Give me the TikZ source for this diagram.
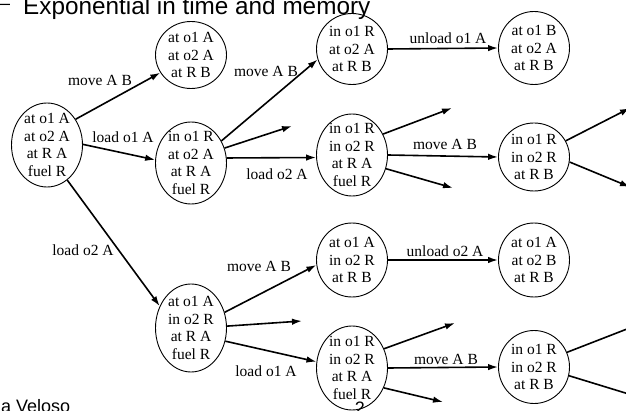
\documentclass[tikz,border=0pt]{standalone}
\usepackage{fontspec}
\setmainfont{Liberation Serif}
\newfontfamily\slidesans{Liberation Sans}
\usetikzlibrary{shapes.geometric,arrows.meta}
\begin{document}
\begin{tikzpicture}[x=1pt,y=-1pt,
  state/.style={draw, ellipse, line width=0.9pt, inner sep=0pt, minimum width=71pt},
  three/.style={state, minimum height=72pt},
  four/.style={state, minimum height=84pt},
  facts/.style={align=center, font=\fontsize{15.5}{17.5}\selectfont, inner sep=0pt},
  act/.style={font=\fontsize{15.5}{17.5}\selectfont, inner sep=0pt},
  arr/.style={line width=1.6pt, -{Latex[length=10pt,width=6.5pt]}},
  slide/.style={font=\slidesans, inner sep=0pt, anchor=base west},
]
\useasboundingbox (0,0) rectangle (626,411);
\fill[white] (0,0) rectangle (626,411);
\clip (0,0) rectangle (626,411);

% slide text around the search tree
\node[slide, font=\slidesans\fontsize{18}{20}\selectfont] (bullet) at (0,10) {–};
\node[slide, font=\slidesans\fontsize{24.3}{29}\selectfont] (title) at (23,15) {Exponential in time and memory};
\node[slide, font=\slidesans\fontsize{18}{20}\selectfont] (author) at (1,412) {a Veloso};

% states
\node[four, label={[facts]center:{at o1 A\\at o2 A\\at R A\\fuel R}}] (s0) at (47,145) {};
\node[three, minimum height=67pt, label={[facts]center:{at o1 A\\at o2 A\\at R B}}] (n1) at (191,55) {};
\node[four, minimum height=82pt, label={[facts]center:{in o1 R\\at o2 A\\at R A\\fuel R}}] (n2) at (191,163) {};
\node[three, minimum height=71pt, label={[facts]center:{in o1 R\\at o2 A\\at R B}}] (n3) at (352,49) {};
\node[three, minimum height=73pt, label={[facts]center:{at o1 B\\at o2 A\\at R B}}] (n4) at (534,48) {};
\node[four, minimum height=82pt, label={[facts]center:{in o1 R\\in o2 R\\at R A\\fuel R}}] (n5) at (352,155) {};
\node[three, minimum height=68pt, label={[facts]center:{in o1 R\\in o2 R\\at R B}}] (n6) at (534,157) {};
\node[four, minimum height=88pt, label={[facts]center:{at o1 A\\in o2 R\\at R A\\fuel R}}] (n7) at (191,328) {};
\node[three, minimum height=74pt, label={[facts]center:{at o1 A\\in o2 R\\at R B}}] (n8) at (352,260) {};
\node[three, minimum height=74pt, label={[facts]center:{at o1 A\\at o2 B\\at R B}}] (n9) at (534,260) {};
\node[four, minimum height=84pt, label={[facts]center:{in o1 R\\in o2 R\\at R A\\fuel R}}] (n10) at (352,368) {};
\node[three, minimum height=73pt, label={[facts]center:{in o1 R\\in o2 R\\at R B}}] (n11) at (534,367) {};

% loose ends of unexpanded branches
\coordinate (t1) at (292,126);
\coordinate (t2) at (452,108);
\coordinate (t3) at (453,188);
\coordinate (t4) at (630,108);
\coordinate (t5) at (630,187);
\coordinate (t6) at (302,321);
\coordinate (t7) at (455,323);
\coordinate (t8) at (443,402);
\coordinate (t9) at (645,322);
\coordinate (t10) at (645,399);

% transitions
\draw[arr] (s0.42) -- (n1.210);
\draw[arr] (s0.1) -- (n2.175);
\draw[arr] (s0.300) -- (n7.145);
\draw[arr] (n2.36) -- (n3.197);
\draw[arr] (n2.24) -- (t1);
\draw[arr] (n2.8) -- (n5.184);
\draw[arr] (n3.0) -- (n4.180);
\draw[arr] (n5.34) -- (t2);
\draw[arr] (n5.0) -- (n6.180);
\draw[arr] (n5.338) -- (t3);
\draw[arr] (n6.27) -- (t4);
\draw[arr] (n6.352) -- (t5);
\draw[arr] (n7.25) -- (n8.188);
\draw[arr] (n7.3) -- (t6);
\draw[arr] (n7.339) -- (n10.170);
\draw[arr] (n8.0) -- (n9.180);
\draw[arr] (n10.31) -- (t7);
\draw[arr] (n10.0) -- (n11.180);
\draw[arr] (n10.328) -- (t8);
\draw[arr] (n11.24) -- (t9);
\draw[arr] (n11.346) -- (t10);

% action labels
\node[act] (a1) at (100,80) {move A B};
\node[act] (a2) at (123,137) {load o1 A};
\node[act] (a3) at (83,250) {load o2 A};
\node[act] (a4) at (266,71) {move A B};
\node[act] (a5) at (277,174) {load o2 A};
\node[act] (a6) at (448,38) {unload o1 A};
\node[act] (a7) at (445,144) {move A B};
\node[act] (a8) at (259,266) {move A B};
\node[act] (a9) at (266,371) {load o1 A};
\node[act] (a10) at (445,251) {unload o2 A};
\node[act] (a11) at (446,359) {move A B};

% page number
\node[slide, anchor=base, font=\slidesans\fontsize{18}{20}\selectfont] (page) at (360,414) {2};
\end{tikzpicture}
\end{document}
